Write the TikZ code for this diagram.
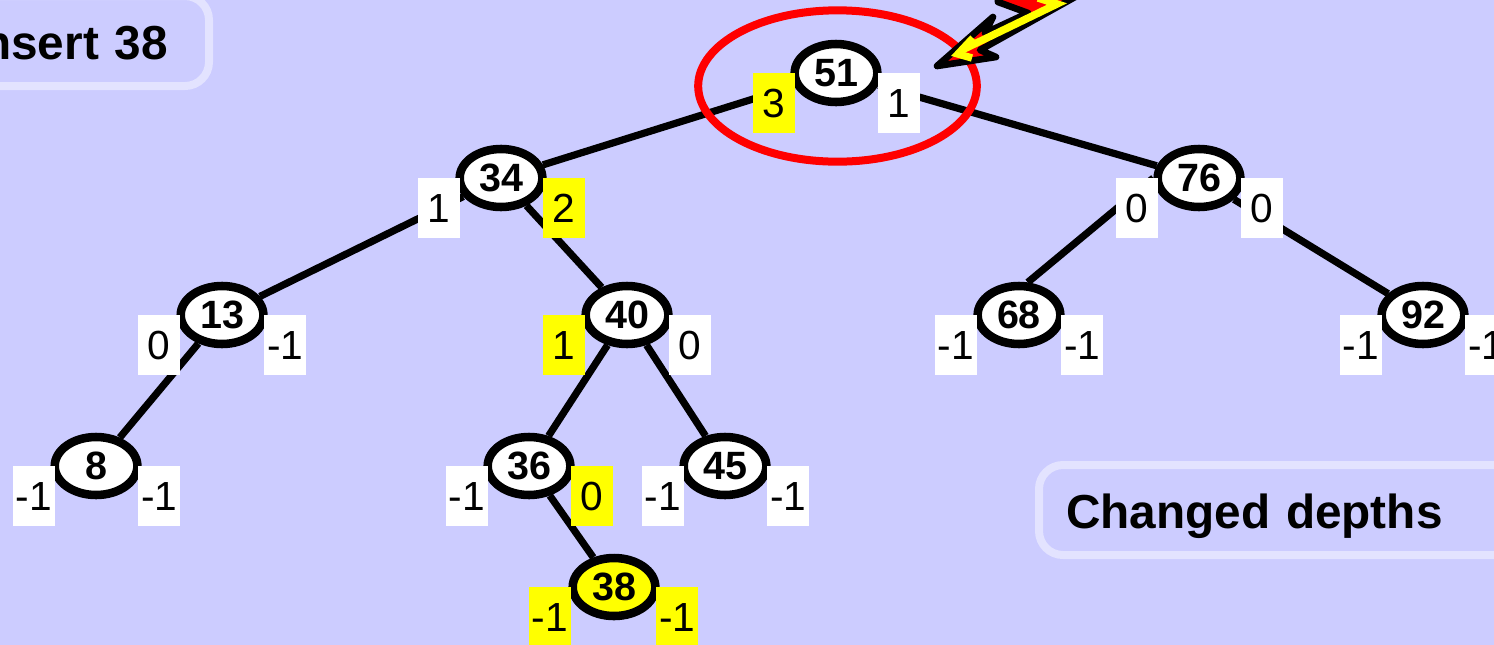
\documentclass[tikz,border=0pt]{standalone}
\usepackage{fontspec}
\setmainfont{Liberation Sans}
\usetikzlibrary{shapes.geometric, backgrounds}
\definecolor{slidebg}{RGB}{204,204,255}
\definecolor{panelrim}{RGB}{227,227,255}
\definecolor{hiyellow}{RGB}{255,255,0}
\definecolor{hired}{RGB}{255,0,0}
\tikzset{
every edge/.style={draw, black, line width=5.4pt}, % the tree branches
keynode/.style={ellipse, draw=black, line width=6.4pt, fill=white, inner sep=0pt, minimum width=62pt, minimum height=43.5pt, font=\fontsize{29.6}{32}\selectfont\bfseries},
depth/.style={fill=white, inner sep=0pt, minimum width=31.5pt, minimum height=45pt, font=\fontsize{30.5}{33}\selectfont},
ldepth/.style={depth, node distance=1.1225cm, xshift=-0.844cm}, % number left of a key
rdepth/.style={depth, node distance=1.1225cm, xshift=0.870cm}, % number right of a key
changed/.style={fill=hiyellow},
panel/.style={draw=panelrim, line width=6pt, rounded corners=18pt, anchor=west, outer sep=0pt, inner xsep=20.25pt, inner ysep=0pt, minimum height=67.5pt, text height=30pt, text depth=3pt, font=\fontsize{35.8}{40}\selectfont\bfseries},
level1/.style={node distance=3.914cm},
level2/.style={node distance=5.107cm},
level3/.style={node distance=5.629cm},
level4/.style={node distance=4.511cm},
}

\begin{document}
\begin{tikzpicture}[x=0.75pt, y=-0.75pt]
      \useasboundingbox (0,0) rectangle (1494,644);

      \node[panel, text width=161.25pt, inner xsep=18.75pt] (insert) at (-56,41) {Insert 38};
      \node[panel, text width=335pt] (depths) at (1039,510) {Changed depths};

      \node[keynode] (51) at (836,73) {51};
      \node[keynode, level1, below left of=51, xshift=-6.062cm] (34) {34};
      \node[keynode, level1, below right of=51, xshift=6.801cm] (76) {76};
      \node[keynode, level2, below left of=34, xshift=-3.742cm] (13) {13};
      \node[keynode, level2, below right of=34, xshift=-0.290cm] (40) {40};
      \node[keynode, level2, below left of=76, xshift=-1.134cm] (68) {68};
      \node[keynode, level2, below right of=76, xshift=2.293cm] (92) {92};
      \node[keynode, level3, below left of=13, xshift=0.659cm] (8) {8};
      \node[keynode, level3, below left of=40, xshift=1.397cm] (36) {36};
      \node[keynode, level3, below right of=40, xshift=-1.397cm] (45) {45};
      \node[keynode, fill=hiyellow, level4, below right of=36, xshift=-0.949cm] (38) {38};

      \node[ldepth, changed, below left of=51] (51l) {3};
      \node[rdepth, below right of=51] (51r) {1};
      \node[ldepth, below left of=34] (34l) {1};
      \node[rdepth, changed, below right of=34] (34r) {2};
      \node[ldepth, below left of=76] (76l) {0};
      \node[rdepth, below right of=76] (76r) {0};
      \node[ldepth, xshift=-0.03cm, below left of=13] (13l) {0};
      \node[rdepth, below right of=13] (13r) {-1};
      \node[ldepth, xshift=-0.03cm, changed, below left of=40] (40l) {1};
      \node[rdepth, below right of=40] (40r) {0};
      \node[ldepth, xshift=-0.03cm, below left of=68] (68l) {-1};
      \node[rdepth, below right of=68] (68r) {-1};
      \node[ldepth, below left of=92] (92l) {-1};
      \node[rdepth, below right of=92] (92r) {-1};
      \node[ldepth, below left of=8] (8l) {-1};
      \node[rdepth, below right of=8] (8r) {-1};
      \node[ldepth, below left of=36] (36l) {-1};
      \node[rdepth, changed, below right of=36] (36r) {0};
      \node[ldepth, below left of=45] (45l) {-1};
      \node[rdepth, below right of=45] (45r) {-1};
      \node[ldepth, xshift=-0.06cm, changed, below left of=38] (38l) {-1};
      \node[rdepth, changed, below right of=38] (38r) {-1};

      \begin{pgfonlayer}{background}
        \fill[slidebg] (-5,-5) rectangle (1500,650);
        \draw (51) edge (34)
        (51) edge (76)
        (34) edge (13)
        (34) edge (40)
        (76.west) edge (68.75)
        (76) edge (92)
        (13) edge (8)
        (40) edge (36)
        (40) edge (45)
        (36) edge (38);
      \end{pgfonlayer}

      \node[ellipse, draw=hired, line width=6pt, inner sep=0pt, minimum width=209pt, minimum height=113.5pt] (ring) at (837.5,86) {};

      % the flash
      \draw[black, fill=hired, line width=5pt, line join=round, line cap=round] (998,-6) -- (998,2) -- (1028,13) -- (985,33) -- (993,17) -- (937,66) -- (996,57) -- (980,50) -- (1084,-8) -- cycle;
      \draw[hiyellow, line width=5.6pt] (1038,-2) -- (1057,4) -- (962,50);
      \draw[hiyellow, line width=5.6pt] (973,38) -- (958,54) -- (972,58);
\end{tikzpicture}
\end{document}
